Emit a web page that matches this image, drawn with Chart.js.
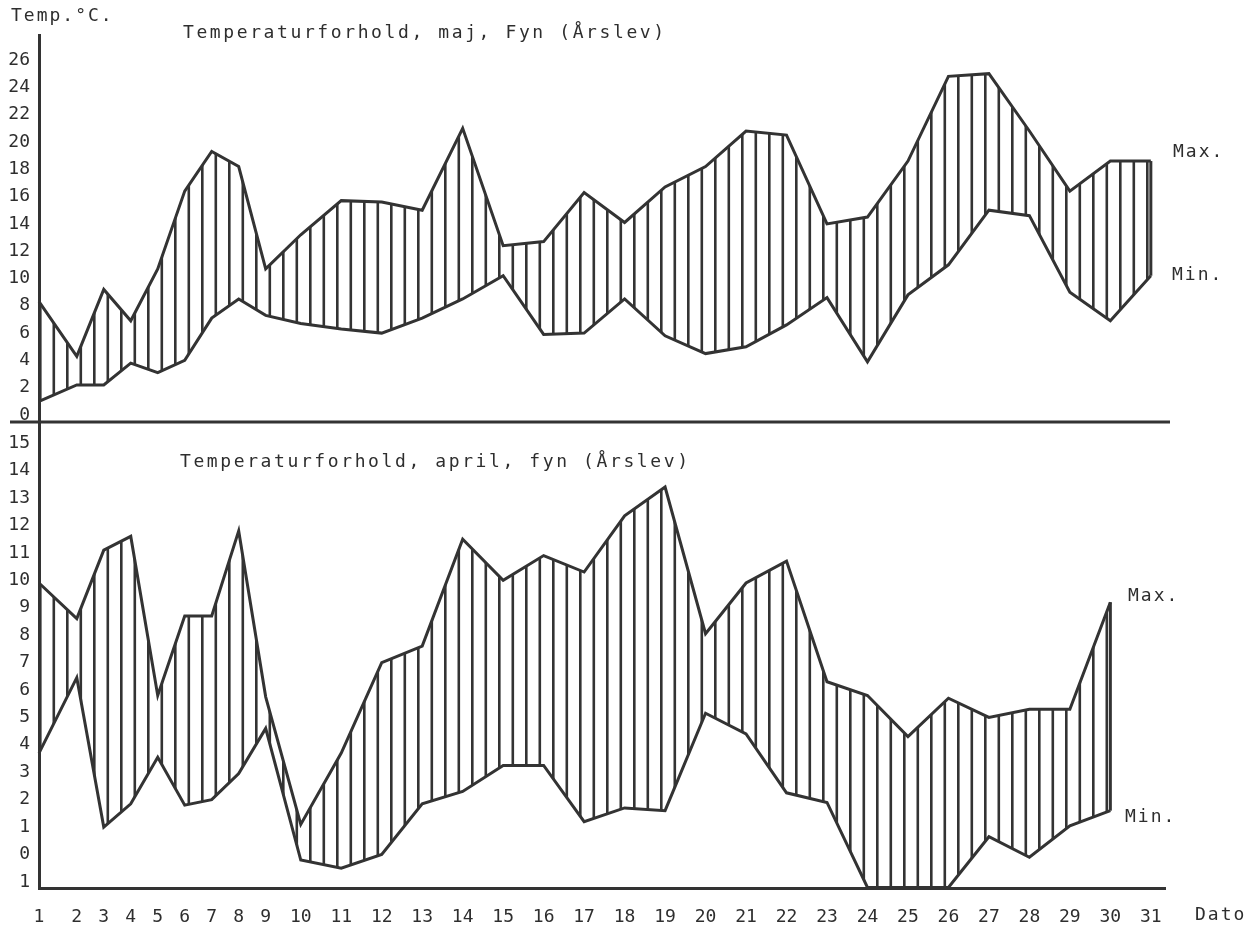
<!DOCTYPE html>
<html>
<head>
<meta charset="utf-8">
<script src="https://cdn.jsdelivr.net/npm/chart.js@4.4.1/dist/chart.umd.min.js"></script>
<style>
html,body{margin:0;padding:0;background:#fff;}
#wrap{position:relative;width:1252px;height:926px;overflow:hidden;}
#c{position:absolute;left:0;top:0;}
.t{position:absolute;font-family:"DejaVu Sans Mono",monospace;font-size:18px;line-height:21px;color:#2e2e2e;white-space:nowrap;letter-spacing:2px;}
.ttl{letter-spacing:2.6px;}
</style>
</head>
<body>
<div id="wrap">
  <canvas id="c" width="1252" height="926"></canvas>
  <div class="t" style="left:11px;top:4px;">Temp.°C.</div>
  <div class="t ttl" style="left:183px;top:21px;">Temperaturforhold, maj, Fyn (Årslev)</div>
  <div class="t ttl" style="left:180px;top:450px;">Temperaturforhold, april, fyn (Årslev)</div>
  <div class="t" style="left:1173px;top:140px;">Max.</div>
  <div class="t" style="left:1172px;top:263px;">Min.</div>
  <div class="t" style="left:1128px;top:584px;">Max.</div>
  <div class="t" style="left:1125px;top:805px;">Min.</div>
  <div class="t" style="left:1195px;top:903px;">Dato</div>
</div>
<script>
// ---- data ----
const days = [1,2,3,4,5,6,7,8,9,10,11,12,13,14,15,16,17,18,19,20,21,22,23,24,25,26,27,28,29,30,31];

const mayMax = [8.3,4.3,9.2,6.9,10.7,16.4,19.3,18.2,10.7,13.2,15.7,15.6,15.0,21.0,12.4,12.7,16.3,14.1,16.7,18.2,20.8,20.5,14.0,14.5,18.6,24.8,25.0,20.8,16.4,18.6,18.6];
const mayMin = [1.0,2.2,2.2,3.8,3.1,4.0,7.1,8.5,7.3,6.7,6.3,6.0,7.1,8.5,10.2,5.9,6.0,8.5,5.8,4.5,5.0,6.6,8.6,3.9,8.8,11.0,15.0,14.6,9.0,6.9,10.2];

const aprMax = [9.9,8.6,11.1,11.6,5.8,8.7,8.7,11.8,5.75,1.1,3.7,7.0,7.6,11.5,10.0,10.9,10.3,12.35,13.4,8.05,9.9,10.7,6.3,5.8,4.3,5.7,5.0,5.3,5.3,9.2];
const aprMin = [3.7,6.45,1.0,1.85,3.55,1.8,2.0,2.95,4.6,-0.2,-0.5,0.0,1.85,2.3,3.25,3.25,1.2,1.7,1.6,5.15,4.4,2.25,1.9,-1.2,-1.2,-1.2,0.65,-0.1,1.05,1.6];

const mayTickValues = [0,2,4,6,8,10,12,14,16,18,20,22,24,26];
const aprTickValues = [-1,0,1,2,3,4,5,6,7,8,9,10,11,12,13,14,15];
const aprTickLabels = ['1','0','1','2','3','4','5','6','7','8','9','10','11','12','13','14','15'];

// ---- date axis: the typed labels are narrower for 1..9 than for 10..31 ----
function warp(d) {
  if (d <= 2) return 1.4 * (d - 1);
  if (d <= 9) return 1.4 + (d - 2);
  if (d <= 10) return 8.4 + 1.3 * (d - 9);
  return 9.7 + 1.5 * (d - 10);
}
function unwarp(u) {
  if (u <= 1.4) return 1 + u / 1.4;
  if (u <= 8.4) return 2 + (u - 1.4);
  if (u <= 9.7) return 9 + (u - 8.4) / 1.3;
  return 10 + (u - 9.7) / 1.5;
}
class DateScale extends Chart.LinearScale {
  getPixelForValue(v) {
    if (v === null || v === undefined || isNaN(v)) return NaN;
    const a = warp(this.min), b = warp(this.max);
    return this.getPixelForDecimal((warp(v) - a) / (b - a));
  }
  getValueForPixel(p) {
    const a = warp(this.min), b = warp(this.max);
    return unwarp(a + this.getDecimalForPixel(p) * (b - a));
  }
}
DateScale.id = 'dateWarp';
DateScale.defaults = Chart.LinearScale.defaults;
Chart.register(DateScale);

// ---- hatch pattern ----
const INK = '#333333';
function makeHatch() {
  const c = document.createElement('canvas');
  c.width = 27; c.height = 6;
  const g = c.getContext('2d');
  g.fillStyle = INK;
  g.fillRect(0, 0, 2.6, 6);
  g.fillRect(13.5, 0, 2.6, 6);
  const p = g.createPattern(c, 'repeat');
  if (p.setTransform) p.setTransform(new DOMMatrix().translate(12, 0));
  return p;
}
const hatch = makeHatch();

const dividerPlugin = {
  id: 'divider',
  afterDatasetsDraw(chart) {
    const y = chart.scales.yMay.bottom;
    const ctx = chart.ctx;
    ctx.save();
    ctx.strokeStyle = INK;
    ctx.lineWidth = 3;
    ctx.beginPath();
    ctx.moveTo(10, y);
    ctx.lineTo(chart.chartArea.right + 5, y);
    ctx.stroke();
    ctx.restore();
  }
};

const tickFont = { family: '"DejaVu Sans Mono", monospace', size: 18 };
const lineBase = { borderColor: INK, borderWidth: 3, pointRadius: 0, tension: 0, clip: false };

new Chart(document.getElementById('c'), {
  type: 'line',
  data: {
    labels: days,
    datasets: [
      Object.assign({ data: mayMax, yAxisID: 'yMay', fill: '+1', backgroundColor: hatch }, lineBase),
      Object.assign({ data: mayMin, yAxisID: 'yMay', fill: false }, lineBase),
      Object.assign({ data: aprMax, yAxisID: 'yApr', fill: '+1', backgroundColor: hatch }, lineBase),
      Object.assign({ data: aprMin, yAxisID: 'yApr', fill: false }, lineBase),
      Object.assign({ data: [{x: days[30], y: mayMin[30]}, {x: days[30], y: mayMax[30]}], yAxisID: 'yMay', fill: false }, lineBase),
      Object.assign({ data: [{x: days[29], y: aprMin[29]}, {x: days[29], y: aprMax[29]}], yAxisID: 'yApr', fill: false }, lineBase)
    ]
  },
  options: {
    responsive: false,
    animation: false,
    devicePixelRatio: 1,
    layout: { padding: { left: 0, right: 87, top: 35, bottom: 0 } },
    plugins: { legend: { display: false }, tooltip: { enabled: false }, title: { display: false } },
    scales: {
      x: {
        type: 'dateWarp',
        position: 'bottom',
        min: 1, max: 31.35, bounds: 'data',
        afterBuildTicks: s => { s.ticks = days.map(v => ({ value: v })); },
        afterFit: s => { s.height = 38; },
        grid: { display: false, drawTicks: false },
        border: { display: true, color: INK, width: 3 },
        ticks: { autoSkip: false, maxRotation: 0, padding: 19, color: '#2e2e2e', font: tickFont,
                 callback: v => String(v) }
      },
      yMay: {
        type: 'linear', position: 'left', stack: 'panels', stackWeight: 387, weight: 1,
        min: -0.51, max: 27.83, bounds: 'data',
        afterBuildTicks: s => { s.ticks = mayTickValues.map(v => ({ value: v })); },
        afterFit: s => { s.width = 39; },
        grid: { display: false, drawTicks: false },
        border: { display: true, color: INK, width: 3 },
        ticks: { autoSkip: false, padding: 9, color: '#2e2e2e', font: tickFont, callback: v => String(v) }
      },
      yApr: {
        type: 'linear', position: 'left', stack: 'panels', stackWeight: 466, weight: 0,
        min: -1.22, max: 15.77, bounds: 'data',
        afterBuildTicks: s => { s.ticks = aprTickValues.map(v => ({ value: v })); },
        afterFit: s => { s.width = 39; },
        grid: { display: false, drawTicks: false },
        border: { display: true, color: INK, width: 3 },
        ticks: { autoSkip: false, padding: 9, color: '#2e2e2e', font: tickFont,
                 callback: v => aprTickLabels[aprTickValues.indexOf(v)] }
      }
    }
  },
  plugins: [dividerPlugin]
});
</script>
</body>
</html>
